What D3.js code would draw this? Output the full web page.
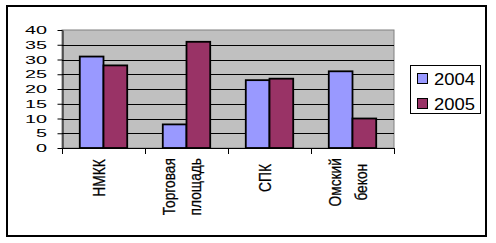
<!DOCTYPE html>
<html><head><meta charset="utf-8">
<script src="https://cdn.jsdelivr.net/npm/d3@7"></script>
<style>html,body{margin:0;padding:0;background:#fff;}svg{display:block;}</style>
</head><body>
<svg id="c" width="496" height="243"></svg>
<script>
const categories = [["НМКК"], ["Торговая", "площадь"], ["СПК"], ["Омский", "бекон"]];
const seriesNames = ["2004", "2005"];
const values2004 = [31, 8, 23, 26];
const values2005 = [28, 36, 23.5, 10];
const yTicks = [0, 5, 10, 15, 20, 25, 30, 35, 40];
const colors = ["#9999FF", "#993366"];

const svg = d3.select("#c");
const L = 62, R = 394, T = 30, B = 148;
const ff = "'Liberation Sans', Arial, sans-serif";

svg.append("rect").attr("x", 7).attr("y", 6).attr("width", 479).attr("height", 230)
  .attr("fill", "#fff").attr("stroke", "#000").attr("stroke-width", 2);

const x0 = d3.scaleBand().domain(d3.range(categories.length)).range([L, R]).paddingInner(0).paddingOuter(0);
const x1 = d3.scaleBand().domain(seriesNames).range([0, x0.bandwidth()]).paddingInner(0).paddingOuter(0.75);
const y = d3.scaleLinear().domain([0, 40]).range([B, T]);

svg.append("rect").attr("x", L).attr("y", T).attr("width", R - L).attr("height", B - T)
  .attr("fill", "#C0C0C0").attr("stroke", "#808080").attr("stroke-width", 1);

svg.append("g").selectAll("line").data(yTicks.filter(v => v > 0 && v < 40)).join("line")
  .attr("x1", L).attr("x2", R).attr("y1", d => Math.round(y(d)) + 0.5).attr("y2", d => Math.round(y(d)) + 0.5)
  .attr("stroke", "#000").attr("stroke-width", 1);

const data = categories.map((c, i) => ({i, vals: [values2004[i], values2005[i]]}));
const gb = svg.append("g");
data.forEach(d => {
  d.vals.forEach((v, j) => {
    gb.append("rect")
      .attr("x", x0(d.i) + x1(seriesNames[j]))
      .attr("y", y(v))
      .attr("width", x1.bandwidth())
      .attr("height", B - y(v))
      .attr("fill", colors[j]).attr("stroke", "#000").attr("stroke-width", 1.8);
  });
});

// Y axis
const yAxis = svg.append("g").attr("transform", `translate(${L + 0.5},0)`)
  .call(d3.axisLeft(y).tickValues(yTicks).tickSize(5).tickSizeOuter(0));
yAxis.select(".domain").attr("stroke", "#000");
yAxis.selectAll(".tick line").attr("stroke", "#000");
yAxis.selectAll(".tick text").attr("font-family", ff).attr("font-size", 11).attr("fill", "#000")
  .attr("x", -15.5 / 1.8).attr("transform", "scale(1.8,1)");

// X axis
const bounds = d3.range(categories.length + 1).map(i => i < categories.length ? x0(i) : x0.range()[1]);
svg.append("line").attr("x1", L).attr("x2", R + 0.5).attr("y1", B + 0.5).attr("y2", B + 0.5).attr("stroke", "#000");
svg.append("g").selectAll("line").data(bounds).join("line")
  .attr("x1", d => Math.round(d) + 0.5).attr("x2", d => Math.round(d) + 0.5)
  .attr("y1", B).attr("y2", B + 6).attr("stroke", "#000");

// Category labels
const sx = 0.86;
categories.forEach((lines, i) => {
  const cx = x0(i) + x0.bandwidth() / 2;
  const g = svg.append("g");
  const texts = lines.map((ln, k) => g.append("text").text(ln)
    .attr("font-family", ff).attr("font-size", 16).attr("fill", "#000")
    .attr("stroke", "#000").attr("stroke-width", 0.25)
    .attr("text-anchor", "middle")
    .attr("y", 1.5 + (k - (lines.length - 1) / 2) * 26));
  const maxLen = d3.max(texts, t => t.node().getComputedTextLength()) * sx;
  const cy = Math.max(178, 158 + maxLen / 2);
  g.attr("transform", `translate(${cx},${cy}) rotate(-90) scale(${sx},1)`);
});

// Legend
const lg = svg.append("g");
lg.append("rect").attr("x", 410.5).attr("y", 65.5).attr("width", 70).attr("height", 48)
  .attr("fill", "#fff").attr("stroke", "#000").attr("stroke-width", 1);
seriesNames.forEach((s, j) => {
  lg.append("rect").attr("x", 417.5).attr("y", 73.5 + j * 25).attr("width", 10).attr("height", 10)
    .attr("fill", colors[j]).attr("stroke", "#000").attr("stroke-width", 1);
  lg.append("text").text(s).attr("x", 434).attr("y", 85 + j * 24.5)
    .attr("font-family", ff).attr("font-size", 17).attr("fill", "#000")
    .attr("textLength", 41).attr("lengthAdjust", "spacingAndGlyphs");
});
</script>
</body></html>
